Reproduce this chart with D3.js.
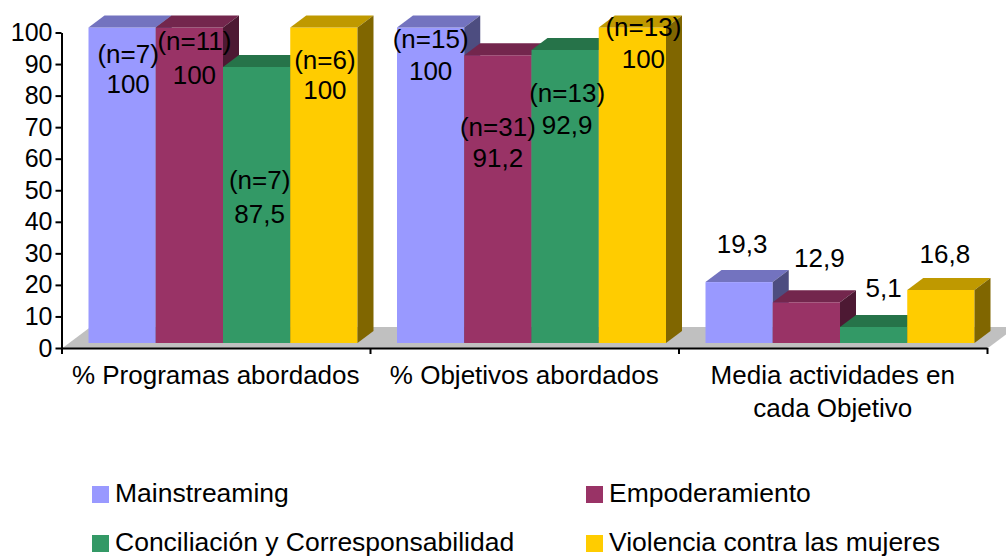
<!DOCTYPE html>
<html>
<head>
<meta charset="utf-8">
<script src="https://d3js.org/d3.v7.min.js"></script>
<style>
  html, body { margin: 0; padding: 0; background: #fff; overflow: hidden; }
  text { font-family: "Liberation Sans", Arial, sans-serif; font-size: 26px; fill: #000; }
  .axis text { font-size: 25px; }
  .legend text { font-size: 26.5px; }
  .axis path, .axis line { stroke: #000; stroke-width: 2; }
</style>
</head>
<body>
<svg id="chart" width="1006" height="557"></svg>
<script>
var categories = ["% Programas abordados", "% Objetivos abordados", "Media actividades en|cada Objetivo"];
var seriesNames = ["Mainstreaming", "Empoderamiento", "Conciliación y Corresponsabilidad", "Violencia contra las mujeres"];
var mainstreaming = [100, 100, 19.3];
var empoderamiento = [100, 91.2, 12.9];
var conciliacion = [87.5, 92.9, 5.1];
var violencia = [100, 100, 16.8];
var valueLabels = [
  ["100", "100", "19,3"],
  ["100", "91,2", "12,9"],
  ["87,5", "92,9", "5,1"],
  ["100", "100", "16,8"]
];
var nLabels = [
  ["(n=7)", "(n=15)", null],
  ["(n=11)", "(n=31)", null],
  ["(n=7)", "(n=13)", null],
  ["(n=6)", "(n=13)", null]
];
var yTicks = [0, 10, 20, 30, 40, 50, 60, 70, 80, 90, 100];

// the labels were placed by hand in the original, so nudge them from the bar top
// [dx, dy, gap between the two lines]
var nudges = [
  [[6, 26, 30], [0, 11, 32], [3, -38, 0]],
  [[5, 13, 34], [0, 72, 31], [13, -44, 0]],
  [[3, 113, 34], [2, 43, 32], [10, -39, 0]],
  [[1, 32, 30], [11, -1, 32], [4, -36, 0]]
];

var colors = ["#9999FF", "#993366", "#339966", "#FFCC00"],
    topColors = ["#7373BF", "#73264D", "#267349", "#BF9900"],
    sideColors = ["#4D4D80", "#4D1933", "#194D33", "#806600"];

var svg = d3.select("#chart"),
    margin = {left: 61.5, right: 987, top: 32.5, bottom: 348};

var depth = {x: 16, y: 12},   // how far the bars go back
    lift = 5;                 // bars stand this far above the axis line

var values = [mainstreaming, empoderamiento, conciliacion, violencia];

var x0 = d3.scaleBand().domain(d3.range(categories.length)).range([margin.left, margin.right]);
var x1 = d3.scaleBand().domain(d3.range(seriesNames.length)).range([27, 27 + 269]);
var y = d3.scaleLinear().domain([0, 100]).range([margin.bottom, margin.top]);
var edges = d3.scaleLinear().domain([0, categories.length]).range([margin.left, margin.right]);

// floor
var floor = d3.path();
floor.moveTo(margin.left + 1, margin.bottom);
floor.lineTo(margin.right + 1, margin.bottom);
floor.lineTo(margin.right + 29, margin.bottom - 21);
floor.lineTo(margin.left + 29, margin.bottom - 21);
floor.closePath();
svg.append("path").attr("d", floor.toString()).attr("fill", "#C0C0C0");

var bars = [];
categories.forEach(function(c, i) {
  seriesNames.forEach(function(s, j) {
    bars.push({group: i, series: j, value: values[j][i]});
  });
});

var bar = svg.selectAll(".bar")
    .data(bars)
  .enter().append("g")
    .attr("class", "bar");

function barBox(d) {
  var left = x0(d.group) + x1(d.series);
  return {l: left, r: left + x1.bandwidth(), t: y(d.value) - lift, b: y(0) - lift};
}

bar.append("rect")
    .attr("x", function(d) { return barBox(d).l; })
    .attr("y", function(d) { return barBox(d).t; })
    .attr("width", x1.bandwidth())
    .attr("height", function(d) { var b = barBox(d); return b.b - b.t; })
    .attr("fill", function(d) { return colors[d.series]; });

bar.append("polygon")
    .attr("points", function(d) {
      var b = barBox(d);
      return [[b.l, b.t], [b.r, b.t], [b.r + depth.x, b.t - depth.y], [b.l + depth.x, b.t - depth.y]].join(" ");
    })
    .attr("fill", function(d) { return topColors[d.series]; });

bar.append("polygon")
    .attr("points", function(d) {
      var b = barBox(d);
      return [[b.r, b.t], [b.r + depth.x, b.t - depth.y], [b.r + depth.x, b.b - depth.y], [b.r, b.b]].join(" ");
    })
    .attr("fill", function(d) { return sideColors[d.series]; });

// axes
svg.append("g")
    .attr("class", "axis")
    .attr("transform", "translate(" + margin.left + ",0)")
    .call(d3.axisLeft(y).tickValues(yTicks).tickSize(6).tickSizeOuter(0).tickPadding(3));

svg.append("g")
    .attr("class", "axis")
    .attr("transform", "translate(0," + margin.bottom + ")")
    .call(d3.axisBottom(edges).ticks(categories.length).tickSize(6).tickSizeOuter(0).tickFormat(""));

svg.selectAll(".axis text").attr("font-size", null).attr("font-family", null).attr("fill", null);

// category labels
var catLabel = svg.selectAll(".cat")
    .data(categories)
  .enter().append("text")
    .attr("class", "cat")
    .attr("text-anchor", "middle");

catLabel.selectAll("tspan")
    .data(function(d, i) { return d.split("|").map(function(t) { return {t: t, i: i}; }); })
  .enter().append("tspan")
    .attr("x", function(d) { return x0(d.i) + x0.bandwidth() / 2; })
    .attr("y", function(d, k) { return 384 + k * 33; })
    .text(function(d) { return d.t; });

// data labels
bars.forEach(function(d) {
  var b = barBox(d),
      nudge = nudges[d.series][d.group],
      cx = (b.l + b.r) / 2 + nudge[0],
      cy = b.t + nudge[1],
      n = nLabels[d.series][d.group];
  if (n) {
    svg.append("text").attr("class", "lab").attr("text-anchor", "middle")
        .attr("x", cx).attr("y", cy).attr("dy", ".35em").text(n);
    cy += nudge[2];
  }
  svg.append("text").attr("class", "lab").attr("text-anchor", "middle")
      .attr("x", cx).attr("y", cy).attr("dy", ".35em").text(valueLabels[d.series][d.group]);
});

// legend
var legendX = d3.scaleBand().domain([0, 1]).range([92, 1080]),
    legendY = d3.scalePoint().domain([0, 1]).range([494.5, 543.5]);

var item = svg.selectAll(".legend")
    .data(seriesNames)
  .enter().append("g")
    .attr("class", "legend")
    .attr("transform", function(d, i) {
      return "translate(" + legendX(i % 2) + "," + legendY(Math.floor(i / 2)) + ")";
    });

item.append("rect")
    .attr("y", -8.5)
    .attr("width", 17)
    .attr("height", 17)
    .attr("fill", function(d, i) { return colors[i]; });

item.append("text")
    .attr("x", 23)
    .attr("dy", ".27em")
    .text(function(d) { return d; });
</script>
</body>
</html>
